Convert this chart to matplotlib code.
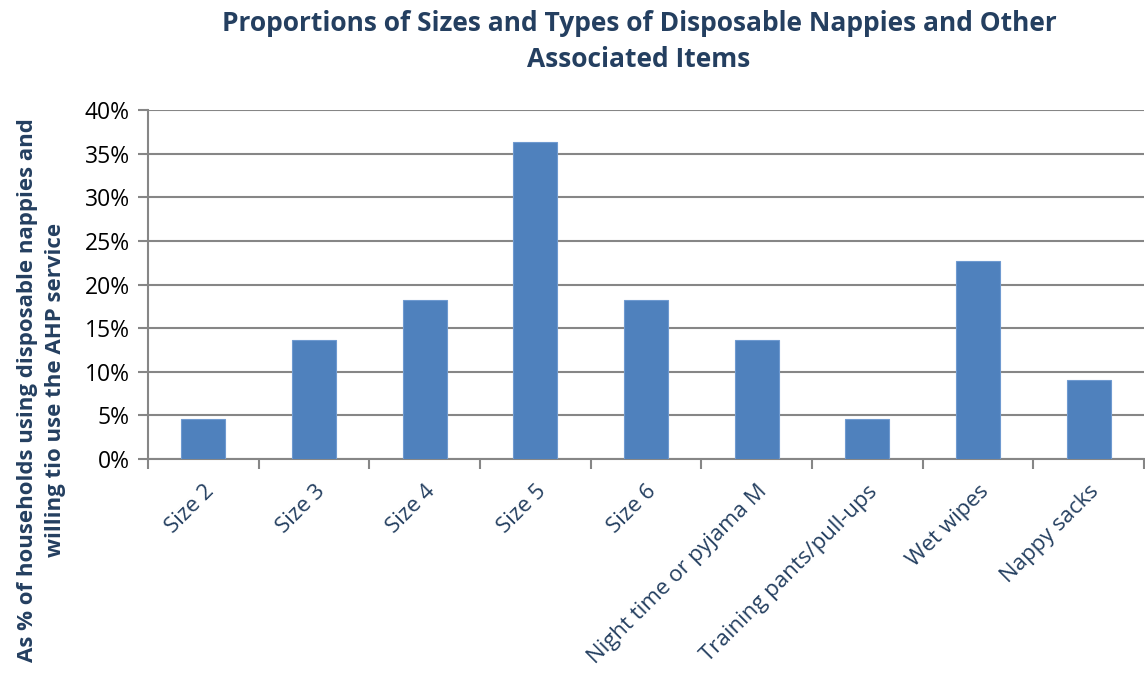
import matplotlib.pyplot as plt
import numpy as np

categories = ["Size 2", "Size 3", "Size 4", "Size 5", "Size 6",
              "Night time or pyjama M", "Training pants/pull-ups",
              "Wet wipes", "Nappy sacks"]
values = [4.55, 13.64, 18.18, 36.36, 18.18, 13.64, 4.55, 22.73, 9.09]
yticks = [0, 5, 10, 15, 20, 25, 30, 35, 40]

plt.rcParams['font.family'] = ['Open Sans', 'DejaVu Sans']

dark_blue = "#243F60"
grid_gray = "#868686"

fig = plt.figure(figsize=(11.45, 6.77), dpi=100)
ax = fig.add_axes([148/1145, 218/677, 996/1145, 349/677])

x = np.arange(len(categories))
ax.bar(x, values, width=0.4, color="#4F81BD", edgecolor="#6F9AD0", linewidth=0.8, zorder=3)

ax.set_xlim(-0.5, len(categories) - 0.5)
ax.set_ylim(0, 40)
ax.set_yticks(yticks)
ax.set_yticklabels([f"{t}%" for t in yticks], fontsize=16.5, color="black")
ax.set_xticks(np.arange(len(categories) + 1) - 0.5, minor=False)
ax.set_xticklabels([])
ax.set_xticks(x, minor=True)
ax.set_xticklabels(categories, minor=True, rotation=45, ha="right",
                   rotation_mode="anchor", fontsize=16, color=dark_blue)
ax.tick_params(axis="x", which="minor", length=0, pad=16)
ax.tick_params(axis="x", which="major", length=7, width=1.5, color=grid_gray, direction="out")
ax.tick_params(axis="y", length=7, width=1.5, color=grid_gray, direction="out", pad=6)

ax.grid(axis="y", color=grid_gray, linewidth=1.5, zorder=0)
for s in ["top", "right"]:
    ax.spines[s].set_visible(False)
for s in ["left", "bottom"]:
    ax.spines[s].set_color(grid_gray)
    ax.spines[s].set_linewidth(1.5)

fig.text(0.558, 0.939, "Proportions of Sizes and Types of Disposable Nappies and Other\nAssociated Items",
         ha="center", va="center", fontsize=19, fontweight="bold", color=dark_blue, linespacing=1.45)

fig.text(0.036, 0.424, "As % of households using disposable nappies and\nwilling tio use the AHP service",
         ha="center", va="center", rotation=90, fontsize=16, fontweight="bold",
         color=dark_blue, linespacing=1.45)

plt.savefig("out.png", dpi=100)
